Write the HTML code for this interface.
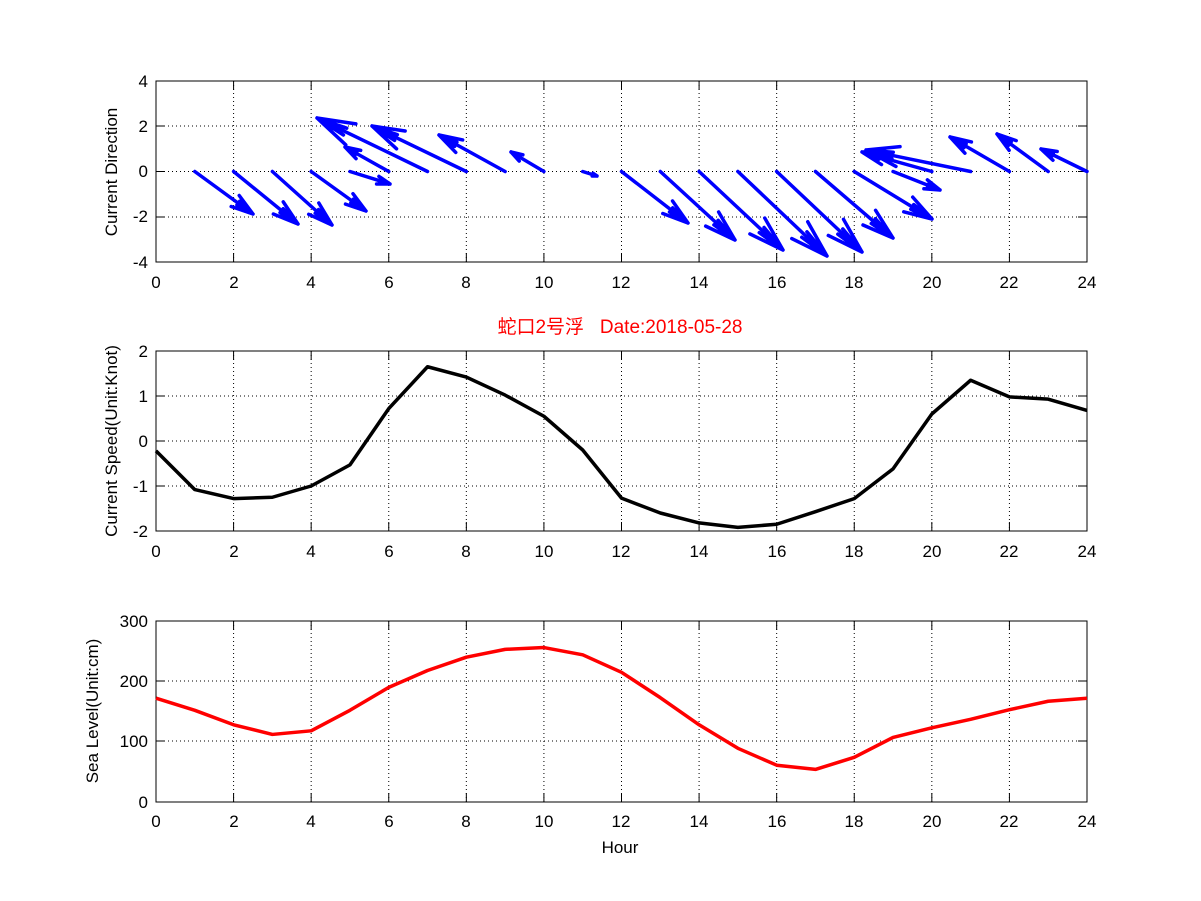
<!DOCTYPE html>
<html><head><meta charset="utf-8"><style>
body{margin:0;background:#fff}
svg{display:block}
text{font-family:"Liberation Sans","Noto Sans CJK SC",sans-serif;font-size:17px;fill:#000}
</style></head><body>
<svg id="s" width="1201" height="901" viewBox="0 0 1201 901" xmlns="http://www.w3.org/2000/svg">
<rect width="1201" height="901" fill="#fff"/>
<g id="grid"></g>
<g id="data"></g>
<g text-anchor="end">
<text x="148" y="87">4</text><text x="148" y="132">2</text><text x="148" y="177">0</text><text x="148" y="222">-2</text><text x="148" y="268">-4</text>
<text x="148" y="357">2</text><text x="148" y="402">1</text><text x="148" y="447">0</text><text x="148" y="492">-1</text><text x="148" y="537">-2</text>
<text x="148" y="627">300</text><text x="148" y="687">200</text><text x="148" y="747">100</text><text x="148" y="808">0</text>
</g>
<g text-anchor="middle">
<text x="156" y="288">0</text><text x="234" y="288">2</text><text x="311" y="288">4</text><text x="389" y="288">6</text><text x="466" y="288">8</text><text x="544" y="288">10</text><text x="621" y="288">12</text><text x="699" y="288">14</text><text x="777" y="288">16</text><text x="854" y="288">18</text><text x="932" y="288">20</text><text x="1009" y="288">22</text><text x="1087" y="288">24</text>
<text x="156" y="557">0</text><text x="234" y="557">2</text><text x="311" y="557">4</text><text x="389" y="557">6</text><text x="466" y="557">8</text><text x="544" y="557">10</text><text x="621" y="557">12</text><text x="699" y="557">14</text><text x="777" y="557">16</text><text x="854" y="557">18</text><text x="932" y="557">20</text><text x="1009" y="557">22</text><text x="1087" y="557">24</text>
<text x="156" y="827">0</text><text x="234" y="827">2</text><text x="311" y="827">4</text><text x="389" y="827">6</text><text x="466" y="827">8</text><text x="544" y="827">10</text><text x="621" y="827">12</text><text x="699" y="827">14</text><text x="777" y="827">16</text><text x="854" y="827">18</text><text x="932" y="827">20</text><text x="1009" y="827">22</text><text x="1087" y="827">24</text>
<text x="620" y="853">Hour</text>
<text x="620" y="333" style="fill:#f00;font-size:19px" xml:space="preserve">蛇口2号浮   Date:2018-05-28</text>
<text transform="translate(117,172) rotate(-90)">Current Direction</text>
<text transform="translate(117,441) rotate(-90)">Current Speed(Unit:Knot)</text>
<text transform="translate(98,711) rotate(-90)">Sea Level(Unit:cm)</text>
</g>
</svg>
<script>
const NS="http://www.w3.org/2000/svg";
const g=document.getElementById('grid'),d=document.getElementById('data');
function el(p,t,a){const e=document.createElementNS(NS,t);for(const k in a)e.setAttribute(k,a[k]);p.appendChild(e);return e;}
const X0=156,X1=1087,hx=(X1-X0)/24;
const axes=[[81,262,[81,126,171.5,217,262]],[351,531,[351,396,441,486,531]],[621,802,[621,681,741,802]]];
axes.forEach(([t,b,ys])=>{
 for(let i=2;i<24;i+=2){const x=X0+i*hx;el(g,'line',{x1:x,y1:t,x2:x,y2:b,stroke:'#000','stroke-width':1,'stroke-dasharray':'1,3'});}
 ys.slice(1,-1).forEach(y=>el(g,'line',{x1:X0,y1:y,x2:X1,y2:y,stroke:'#000','stroke-width':1,'stroke-dasharray':'1,3'}));
 for(let i=0;i<=24;i+=2){const x=X0+i*hx;el(g,'line',{x1:x,y1:b,x2:x,y2:b-9,stroke:'#000'});el(g,'line',{x1:x,y1:t,x2:x,y2:t+9,stroke:'#000'});}
 ys.forEach(y=>{el(g,'line',{x1:X0,y1:y,x2:X0+9,y2:y,stroke:'#000'});el(g,'line',{x1:X1,y1:y,x2:X1-9,y2:y,stroke:'#000'});});
 el(g,'rect',{x:X0,y:t,width:X1-X0,height:b-t,fill:'none',stroke:'#000','stroke-width':1});
});
const arr=[[1,253,214],[2,298,224],[3,332,225],[4,366,211],[5,390,184],[6,345,147],[7,317,118],[8,372,126],[9,439,135],[10,511,152],[11,597,176],[12,688,223],[13,735,240],[14,783,250],[15,827,256],[16,862,252],[17,893,238],[18,932,219],[19,940,190],[20,862,152],[21,866,150],[22,950,137],[23,997,134],[24,1041,149]];
arr.forEach(([i,ex,ey])=>{const sx=X0+i*hx,sy=171.5;const dx=ex-sx,dy=ey-sy,L=Math.hypot(dx,dy),a=Math.atan2(dy,dx);const h=L*0.32;
 let p=`M${sx},${sy}L${ex},${ey}`;[0.3,-0.3].forEach(o=>{p+=`M${ex},${ey}L${ex-h*Math.cos(a+o)},${ey-h*Math.sin(a+o)}`;});
 p+=`M${ex},${ey}L${ex-h*0.8*Math.cos(a+0.12)},${ey-h*0.8*Math.sin(a+0.12)}M${ex},${ey}L${ex-h*0.8*Math.cos(a-0.12)},${ey-h*0.8*Math.sin(a-0.12)}`;
 el(d,'path',{d:p,stroke:'#00f','stroke-width':3.5,fill:'none','stroke-linecap':'round'});});
const sp=[-0.22,-1.08,-1.28,-1.25,-1.0,-0.53,0.72,1.65,1.42,1.02,0.55,-0.2,-1.27,-1.6,-1.82,-1.92,-1.85,-1.57,-1.28,-0.62,0.6,1.35,0.98,0.93,0.68];
el(d,'polyline',{points:sp.map((v,i)=>`${X0+i*hx},${441-v*45}`).join(' '),fill:'none',stroke:'#000','stroke-width':3.5,'stroke-linejoin':'round'});
const sl=[172,152,128,112,118,152,190,218,240,253,256,244,215,173,128,89,61,54,74,107,123,137,153,167,172];
el(d,'polyline',{points:sl.map((v,i)=>`${X0+i*hx},${802-v*0.6033}`).join(' '),fill:'none',stroke:'#f00','stroke-width':3.5,'stroke-linejoin':'round'});
</script>
</body></html>
